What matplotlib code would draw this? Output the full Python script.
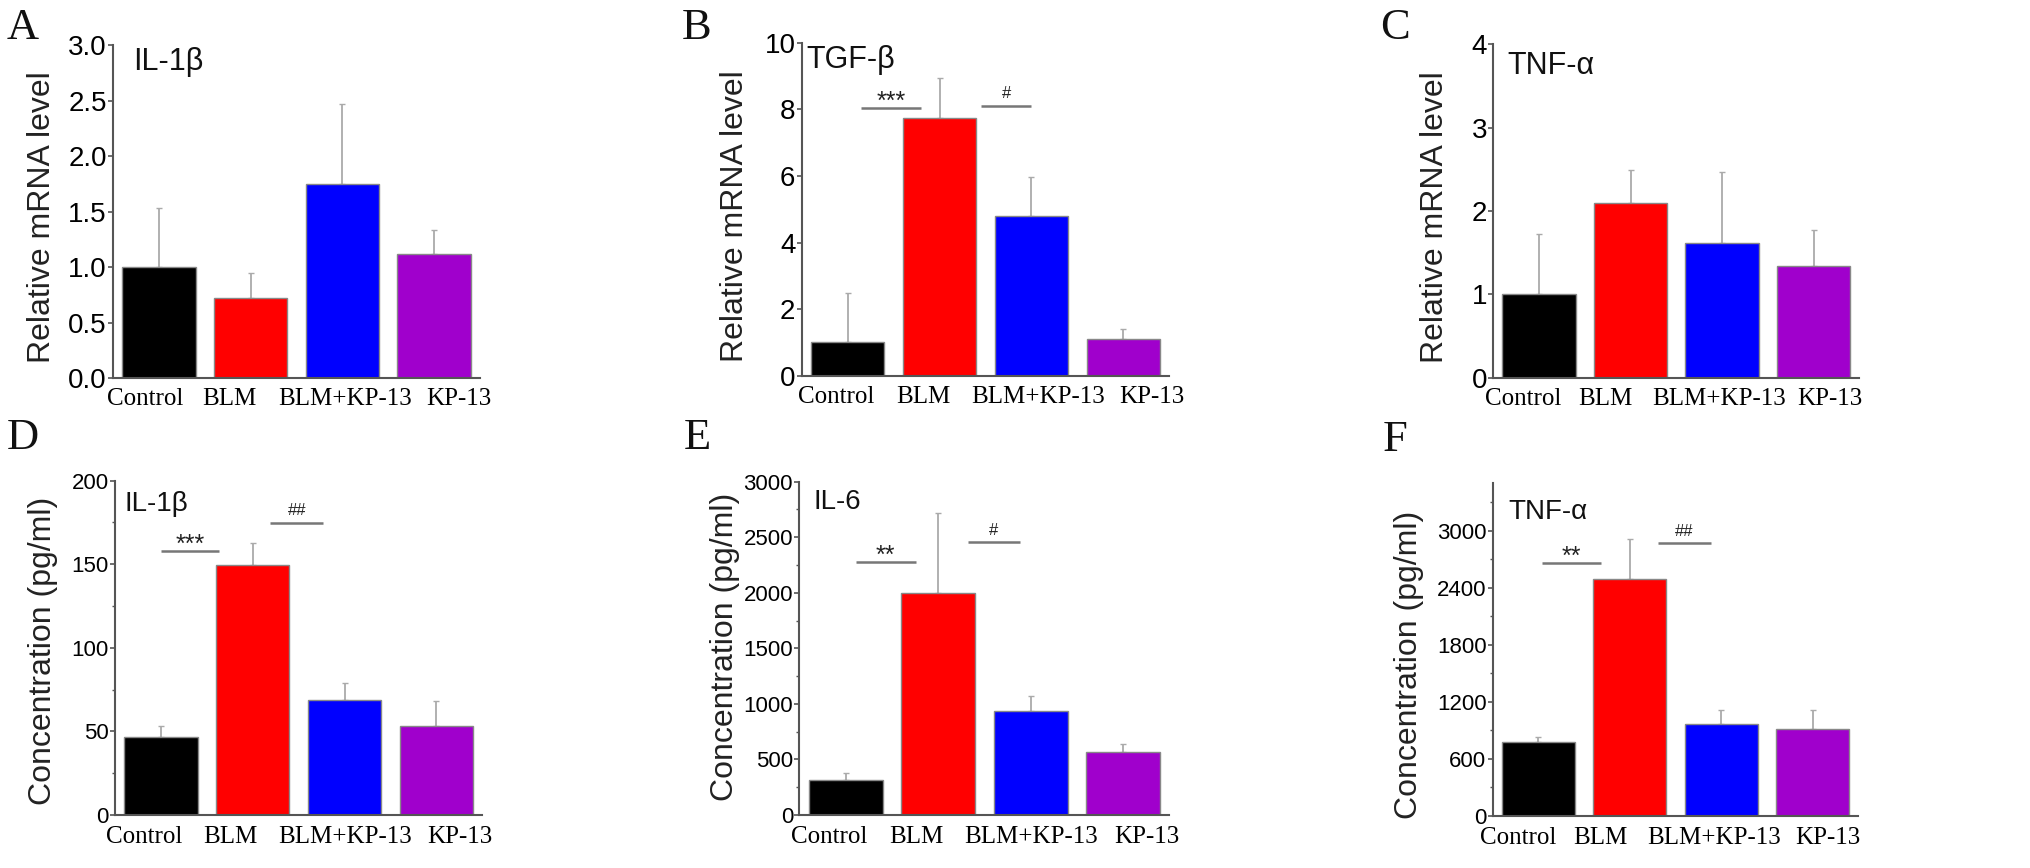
import matplotlib
matplotlib.use("Agg")
import matplotlib.pyplot as plt
from matplotlib import font_manager
from matplotlib.ticker import MultipleLocator, FormatStrFormatter

names = {f.name for f in font_manager.fontManager.ttflist}
SANS = "Liberation Sans" if "Liberation Sans" in names else "DejaVu Sans"
SERIF = "Liberation Serif" if "Liberation Serif" in names else "DejaVu Serif"
NARROW = "Liberation Sans Narrow" if "Liberation Sans Narrow" in names else SANS

categories = ["Control", "BLM", "BLM+KP-13", "KP-13"]
colors = ["#000000", "#ff0000", "#0000ff", "#a000cc"]

# panel data: values and (upper) error
A_vals = [1.0, 0.72, 1.75, 1.12]
A_err = [0.53, 0.23, 0.72, 0.21]
B_vals = [1.01, 7.73, 4.81, 1.10]
B_err = [1.49, 1.20, 1.16, 0.30]
C_vals = [1.0, 2.09, 1.62, 1.34]
C_err = [0.73, 0.40, 0.85, 0.43]
D_vals = [46.8, 149.6, 69.0, 53.0]
D_err = [6.4, 12.9, 9.8, 15.4]
E_vals = [318, 1998, 939, 570]
E_err = [57, 723, 129, 69]
F_vals = [776, 2493, 962, 909]
F_err = [53, 420, 147, 200]

# significance marks: (text, x0, x1, y)
B_sig = [("***", 0.15, 0.80, 8.05), ("#", 1.45, 2.00, 8.11)]
D_sig = [("***", 0.00, 0.63, 158.1), ("##", 1.19, 1.77, 174.9)]
E_sig = [("**", 0.11, 0.76, 2280), ("#", 1.32, 1.89, 2454)]
F_sig = [("**", 0.04, 0.68, 2664), ("##", 1.31, 1.89, 2868)]

# category-label positions (the labels are spread like a text line, not centred on bars)
A_lab = [-0.15, 0.77, 2.03, 3.27]
B_lab = [-0.12, 0.82, 2.07, 3.31]
C_lab = [-0.17, 0.72, 1.97, 3.18]
D_lab = [-0.18, 0.76, 2.01, 3.26]
E_lab = [-0.18, 0.77, 2.01, 3.26]
F_lab = [-0.22, 0.68, 1.92, 3.17]

W, H = 2031, 868
fig = plt.figure(figsize=(W / 100, H / 100), dpi=100)

panels = [
    ("A", "IL-1β", A_vals, A_err, [], A_lab, (113, 45, 480, 378), (0, 3.0), 0.5, None, "%.1f",
     "Relative mRNA level", (42, 217), (23, 28), (133, 62), True),
    ("B", "TGF-β", B_vals, B_err, B_sig, B_lab, (801.7, 42.7, 1169.3, 376), (0, 10), 2, None, "%d",
     "Relative mRNA level", (735, 216), (697, 28), (806, 60), True),
    ("C", "TNF-α", C_vals, C_err, [], C_lab, (1493.3, 44.3, 1859.3, 377.7), (0, 4), 1, None, "%d",
     "Relative mRNA level", (1435, 217), (1395, 28), (1507, 66), True),
    ("D", "IL-1β", D_vals, D_err, D_sig, D_lab, (115, 480.7, 482.3, 815), (0, 200), 50, 25, "%d",
     "Concentration (pg/ml)", (43, 651), (23, 438), (125, 504), False),
    ("E", "IL-6", E_vals, E_err, E_sig, E_lab, (799.3, 481.7, 1169.3, 815), (0, 3000), 500, 250, "%d",
     "Concentration (pg/ml)", (725, 647), (697, 438), (813, 502), False),
    ("F", "TNF-α", F_vals, F_err, F_sig, F_lab, (1492.7, 483.3, 1858.3, 815.7), (0, 3500), 600, 300, "%d",
     "Concentration (pg/ml)", (1409, 665), (1395, 440), (1508, 512), False),
]

spine_col = "#555555"
for (letter, sub, vals, err, sig, labx, box, ylim, major, minor, fmt, ylab, ylxy, lxy, sxy, top) in panels:
    l, t, r, b = box
    ax = fig.add_axes([l / W, 1 - b / H, (r - l) / W, (b - t) / H])
    x = list(range(len(categories)))
    ax.bar(x, vals, width=0.8, color=colors, edgecolor="#888888", linewidth=1.0, zorder=2)
    ax.errorbar(x, vals, yerr=[[0] * len(vals), err], fmt="none", ecolor="#aaaaaa",
                elinewidth=1.3, capsize=2, capthick=1.0, zorder=1)
    ax.set_xlim(-0.5, 3.5)
    ax.set_ylim(*ylim)
    ax.yaxis.set_major_locator(MultipleLocator(major))
    if minor is not None:
        ax.yaxis.set_minor_locator(MultipleLocator(minor))
    if ylim[1] == 3500:
        ax.set_yticks([0, 600, 1200, 1800, 2400, 3000])
    ax.yaxis.set_major_formatter(FormatStrFormatter(fmt))
    for s in ["top", "right"]:
        ax.spines[s].set_visible(False)
    for s in ["left", "bottom"]:
        ax.spines[s].set_color(spine_col)
        ax.spines[s].set_linewidth(1.5)
    ax.set_xticks(labx)
    ax.set_xticklabels(categories, fontfamily=SERIF, fontsize=18)
    ax.tick_params(axis="x", length=0, pad=7.5 if top else 8)
    ax.tick_params(axis="y", which="major", length=3.5, width=1.2, color=spine_col,
                   pad=1, labelsize=20 if top else 16)
    ax.tick_params(axis="y", which="minor", length=2.5, width=1.0, color=spine_col)
    for lab in ax.get_yticklabels():
        lab.set_fontfamily(SANS)
    for (txt, x0, x1, yy) in sig:
        ax.plot([x0, x1], [yy, yy], color="#777777", lw=1.8, solid_capstyle="butt", zorder=3)
        star = "*" in txt
        ax.annotate(txt, xy=((x0 + x1) / 2, yy), xytext=(0, 4 if star else 8.5),
                    textcoords="offset points", ha="center", va="center",
                    fontsize=18 if star else 12, fontfamily=SANS, color="#222222")
    fig.text(ylxy[0] / W, 1 - ylxy[1] / H, ylab, rotation=90, ha="center", va="center",
             fontsize=23, fontfamily=SANS, color="#222222")
    fig.text(lxy[0] / W, 1 - lxy[1] / H, letter, ha="center", va="center",
             fontsize=32, fontfamily=SERIF, color="#111111")
    fig.text(sxy[0] / W, 1 - sxy[1] / H, sub, ha="left", va="center",
             fontsize=22 if top else 20, fontfamily=NARROW, color="#111111")

fig.savefig("out.png", dpi=100)
